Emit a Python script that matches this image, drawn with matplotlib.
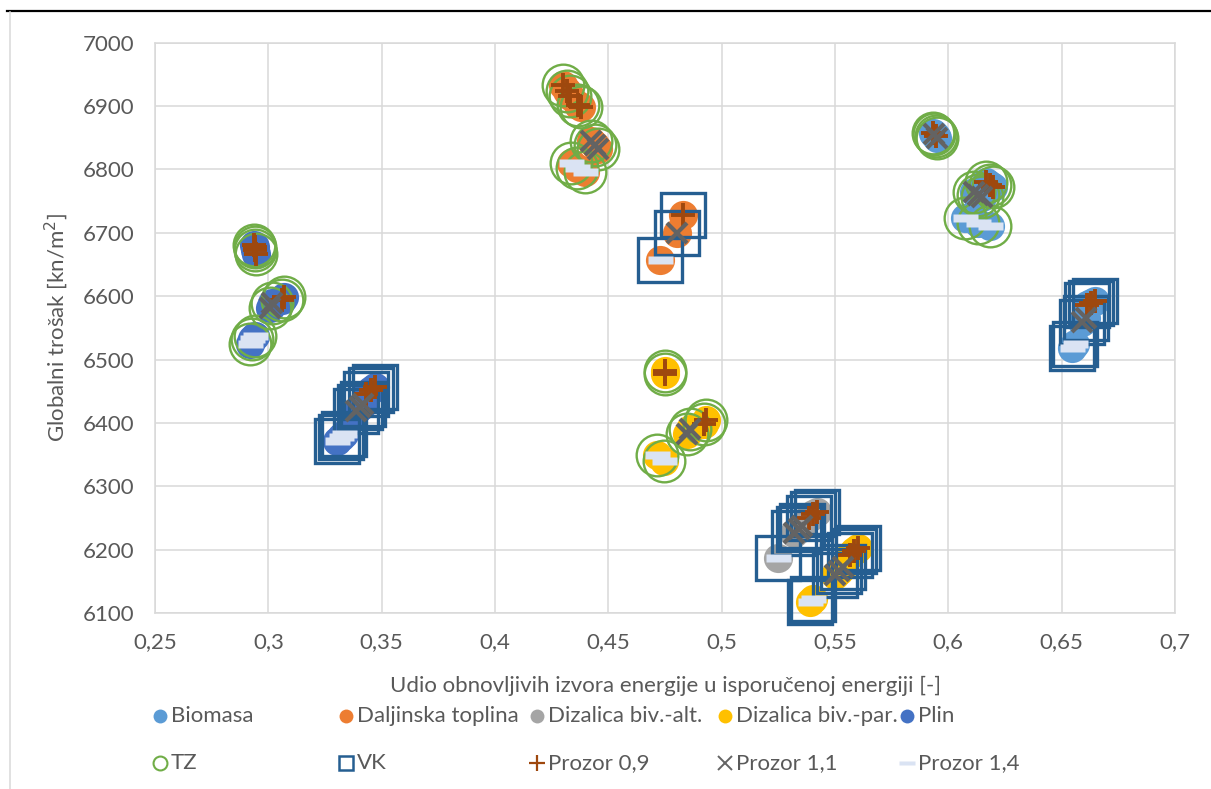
import matplotlib
matplotlib.use("Agg")
import matplotlib.pyplot as plt
from matplotlib.lines import Line2D

#%% data
x_udio = [0.2936, 0.2941, 0.2946, 0.2939, 0.3008, 0.3018, 0.3060, 0.3068,
          0.2918, 0.2930, 0.2942,
          0.3432, 0.3455, 0.3472, 0.3388, 0.3405, 0.3418, 0.3302, 0.3320, 0.3335,
          0.4300, 0.4318, 0.4333, 0.4366, 0.4380, 0.4425, 0.4440, 0.4455,
          0.4335, 0.4360, 0.4395,
          0.4829, 0.4803, 0.4728,
          0.4748, 0.4752, 0.4845, 0.4860, 0.4920, 0.4932, 0.4715, 0.4745,
          0.5385, 0.5405, 0.5420, 0.5320, 0.5340, 0.5355, 0.5248,
          0.5565, 0.5585, 0.5600, 0.5500, 0.5518, 0.5535, 0.5390, 0.5405,
          0.5932, 0.5945, 0.5935, 0.5948, 0.6165, 0.6185, 0.6198,
          0.6115, 0.6132, 0.6150, 0.6073, 0.6130, 0.6183,
          0.6610, 0.6630, 0.6648, 0.6590, 0.6608, 0.6545, 0.6560]
y_trosak = [6681, 6673, 6666, 6677, 6582, 6589, 6594, 6598,
            6524, 6532, 6537,
            6446, 6452, 6457, 6418, 6425, 6430, 6371, 6377, 6382,
            6933, 6924, 6916, 6902, 6898, 6845, 6838, 6832,
            6810, 6803, 6796,
            6728, 6700, 6657,
            6482, 6477, 6382, 6390, 6398, 6405, 6350, 6340,
            6250, 6256, 6260, 6226, 6233, 6238, 6187,
            6192, 6198, 6202, 6160, 6166, 6172, 6117, 6122,
            6858, 6852, 6856, 6850, 6780, 6775, 6772,
            6765, 6760, 6756, 6724, 6716, 6711,
            6586, 6590, 6593, 6560, 6566, 6518, 6524]
# B = Biomasa, D = Daljinska toplina, A = Dizalica biv.-alt., P = Dizalica biv.-par., G = Plin
gorivo = (["G"] * 20 + ["D"] * 14 + ["P"] * 8 + ["A"] * 7 + ["P"] * 8
          + ["B"] * 20)
ovojnica = (["TZ"] * 11 + ["VK"] * 9 + ["TZ"] * 11 + ["VK"] * 3 + ["TZ"] * 8
            + ["VK"] * 15 + ["TZ"] * 13 + ["VK"] * 7)
prozor = ([0.9] * 4 + [1.1] * 2 + [0.9] * 2 + [1.4] * 3
          + [0.9] * 3 + [1.1] * 3 + [1.4] * 3
          + [0.9] * 5 + [1.1] * 3 + [1.4] * 3
          + [0.9, 1.1, 1.4]
          + [0.9] * 2 + [1.1] * 2 + [0.9] * 2 + [1.4] * 2
          + [0.9] * 3 + [1.1] * 3 + [1.4]
          + [0.9] * 3 + [1.1] * 3 + [1.4] * 2
          + [0.9] * 2 + [1.1] * 2 + [0.9] * 3 + [1.1] * 3 + [1.4] * 3
          + [0.9] * 3 + [1.1] * 2 + [1.4] * 2)

gorivo_names = {"B": "Biomasa", "D": "Daljinska toplina", "A": "Dizalica biv.-alt.",
                "P": "Dizalica biv.-par.", "G": "Plin"}
x_ticks = [0.25, 0.3, 0.35, 0.4, 0.45, 0.5, 0.55, 0.6, 0.65, 0.7]
y_ticks = [6100, 6200, 6300, 6400, 6500, 6600, 6700, 6800, 6900, 7000]

#%% styles
dash = [(-1, -0.3), (1, -0.3), (1, 0.3), (-1, 0.3)]
fuel_style = {"B": "#5B9BD5", "D": "#ED7D31", "A": "#A5A5A5", "P": "#FFC000", "G": "#4472C4"}
env_style = {"TZ": dict(marker="o", ms=30, mfc="none", mec="#70AD47", mew=1.7),
             "VK": dict(marker="s", ms=32, mfc="none", mec="#255E91", mew=2.4)}
win_style = {0.9: dict(marker="+", ms=17, mec="#9E480E", mew=2.8),
             1.1: dict(marker="x", ms=15, mec="#636363", mew=3.0),
             1.4: dict(marker=dash, ms=18, mfc="#DAE3F3", mec="none")}

plt.rcParams['font.family'] = ['Lato', 'DejaVu Sans']
txt = "#595959"
fs = 16

fig = plt.figure(figsize=(12.11, 7.89), dpi=100)
ax = fig.add_axes([155 / 1211, 1 - 613 / 789, 1020 / 1211, 570.3 / 789])

def sel(key, values):
    xs = [x for x, v in zip(x_udio, values) if v == key]
    ys = [y for y, v in zip(y_trosak, values) if v == key]
    return xs, ys

for k in ["B", "D", "A", "P", "G"]:
    xs, ys = sel(k, gorivo)
    ax.plot(xs, ys, ls="none", marker="o", ms=21, mfc=fuel_style[k], mec="none",
            clip_on=False, zorder=3)
for k in ["TZ", "VK"]:
    xs, ys = sel(k, ovojnica)
    ax.plot(xs, ys, ls="none", clip_on=False, zorder=4, **env_style[k])
for k in [0.9, 1.1, 1.4]:
    xs, ys = sel(k, prozor)
    ax.plot(xs, ys, ls="none", clip_on=False, zorder=5, **win_style[k])

ax.set_xlim(0.25, 0.7)
ax.set_ylim(6100, 7000)
ax.set_xticks(x_ticks)
ax.set_yticks(y_ticks)
ax.set_xticklabels([("%g" % v).replace(".", ",") for v in x_ticks])
ax.grid(True, color="#D9D9D9", lw=1.1)
ax.set_axisbelow(True)
for s in ax.spines.values():
    s.set_color("#D9D9D9")
    s.set_linewidth(1.1)
ax.tick_params(length=0, labelsize=fs, labelcolor=txt)
ax.tick_params(axis="y", pad=15)
ax.tick_params(axis="x", pad=14)
ax.set_xlabel("Udio obnovljivih izvora energije u isporučenoj energiji [-]",
              fontsize=fs, color=txt, labelpad=17)
ax.set_ylabel("Globalni trošak [kn/m$^2$]", fontsize=fs, color=txt, labelpad=9)

# chart frame
fig.add_artist(Line2D([7 / 1211, 1], [1 - 11 / 789] * 2, color="black", lw=1.6))
fig.add_artist(Line2D([10 / 1211] * 2, [0, 1 - 12 / 789], color="#D9D9D9", lw=1.1))

#%% legend, drawn by hand
cols = [160, 346, 537, 725, 907]
rows = [716, 763]
entries = [(gorivo_names[k], dict(marker="o", ms=10, mfc=fuel_style[k], mec="none"))
           for k in ["B", "D", "A", "P", "G"]]
entries += [("TZ", dict(marker="o", ms=10, mfc="none", mec="#70AD47", mew=1.5)),
            ("VK", dict(marker="s", ms=10, mfc="none", mec="#255E91", mew=1.8)),
            ("Prozor 0,9", dict(marker="+", ms=11, mec="#9E480E", mew=1.6)),
            ("Prozor 1,1", dict(marker="x", ms=10, mec="#636363", mew=1.4)),
            ("Prozor 1,4", dict(marker=dash, ms=11, mfc="#DAE3F3", mec="none"))]
for i, (label, st) in enumerate(entries):
    px, py = cols[i % 5], rows[i // 5]
    fig.add_artist(Line2D([px / 1211], [1 - py / 789], ls="none", **st))
    fig.text((px + 11) / 1211, 1 - py / 789, label, fontsize=fs, color=txt,
             va="center", ha="left")

fig.savefig("out.png", dpi=100)
